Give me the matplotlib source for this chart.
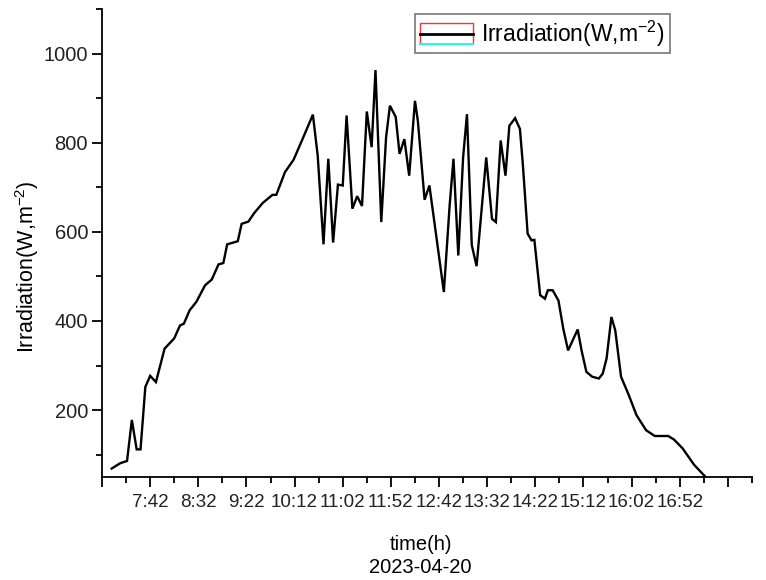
import matplotlib
matplotlib.use("Agg")
import matplotlib.pyplot as plt
import numpy as np
from matplotlib.legend_handler import HandlerBase
from matplotlib.patches import Rectangle
from matplotlib.lines import Line2D
from matplotlib.ticker import FixedLocator, MultipleLocator

plt.rcParams['font.family'] = ['Liberation Sans', 'DejaVu Sans']
plt.rcParams['mathtext.fontset'] = 'custom'
plt.rcParams['mathtext.rm'] = 'Liberation Sans'
plt.rcParams['mathtext.it'] = 'Liberation Sans'

# ---- data ----
times = ["07:02", "07:11", "07:18", "07:23", "07:28", "07:32", "07:37", "07:42", "07:48", "07:57",
         "08:07", "08:13", "08:17", "08:23", "08:30", "08:39", "08:46", "08:53", "08:58", "09:02",
         "09:13", "09:17", "09:24", "09:30", "09:39", "09:49", "09:53", "10:02", "10:11", "10:21",
         "10:31", "10:36", "10:42", "10:47", "10:52", "10:57", "11:02", "11:06", "11:12", "11:17",
         "11:22", "11:27", "11:32", "11:36", "11:42", "11:47", "11:51", "11:57", "12:01", "12:06",
         "12:11", "12:17", "12:20", "12:27", "12:32", "12:47", "12:53", "12:57", "13:02", "13:07",
         "13:11", "13:16", "13:21", "13:31", "13:37", "13:41", "13:46", "13:51", "13:55", "14:01",
         "14:06", "14:09", "14:14", "14:18", "14:21", "14:27", "14:32", "14:35", "14:40", "14:46",
         "14:51", "14:56", "15:06", "15:10", "15:15", "15:21", "15:28", "15:32", "15:36", "15:41",
         "15:45", "15:51", "15:59", "16:07", "16:17", "16:26", "16:40", "16:46", "16:55", "17:07",
         "17:18"]
irradiation = [69, 81, 86, 178, 112, 112, 252, 277, 263, 338,
               361, 390, 394, 424, 443, 480, 493, 527, 530, 572,
               579, 618, 623, 642, 665, 683, 683, 734, 762, 812,
               863, 771, 572, 764, 576, 706, 704, 861, 652, 680,
               658, 870, 790, 963, 622, 812, 883, 858, 775, 808,
               726, 894, 849, 672, 704, 465, 659, 764, 547, 767,
               864, 570, 523, 767, 629, 622, 805, 726, 838, 855,
               831, 752, 596, 581, 582, 458, 450, 469, 469, 446,
               383, 334, 381, 334, 286, 275, 271, 282, 316, 409,
               379, 275, 234, 189, 155, 142, 142, 134, 114, 77,
               52]
tick_times = ["06:52", "07:42", "08:32", "09:22", "10:12", "11:02", "11:52",
              "12:42", "13:32", "14:22", "15:12", "16:02", "16:52", "17:42"]
tick_labels = ["", "7:42", "8:32", "9:22", "10:12", "11:02", "11:52",
               "12:42", "13:32", "14:22", "15:12", "16:02", "16:52", ""]
x_range = ["06:52", "18:07"]
y_range = [50, 1100]
date_label = "2023-04-20"


def to_min(s):
    h, m = s.split(":")
    return int(h) * 60 + int(m)


x = np.array([to_min(t) for t in times])
y = np.array(irradiation)
xt = [to_min(t) for t in tick_times]

W, H = 766, 580
fig = plt.figure(figsize=(W / 100, H / 100), dpi=100)
ax = fig.add_axes([102 / W, 1 - 477 / H, (752 - 102) / W, (477 - 9) / H])

line, = ax.plot(x, y, color='black', lw=1.7, solid_joinstyle='miter')

ax.set_xlim(to_min(x_range[0]), to_min(x_range[1]))
ax.set_ylim(*y_range)

ax.xaxis.set_major_locator(FixedLocator(xt))
ax.set_xticklabels(tick_labels, family=['Liberation Sans'])
ax.xaxis.set_minor_locator(MultipleLocator(25, offset=xt[0] % 25))
ax.set_yticks([200, 400, 600, 800, 1000])
ax.yaxis.set_minor_locator(MultipleLocator(100))

for s in ['top', 'right']:
    ax.spines[s].set_visible(False)
for s in ['left', 'bottom']:
    ax.spines[s].set_linewidth(1.3)

ax.tick_params(axis='both', which='major', direction='out', length=7, width=1.3)
ax.tick_params(axis='both', which='minor', direction='out', length=4, width=1.3)
ax.tick_params(axis='x', which='major', labelsize=13.5, pad=5, labelcolor='#222222')
ax.tick_params(axis='y', which='major', labelsize=14.5, pad=3, labelcolor='#222222')

ax.set_xlabel("time(h)\n" + date_label, fontsize=14.5, linespacing=1.25)
ax.xaxis.set_label_coords(0.49, -0.125, transform=ax.transAxes)
ax.xaxis.label.set_va('top')
ax.set_ylabel(r"Irradiation(W,m$^{-2}$)", fontsize=15.5)
ax.yaxis.set_label_coords(-0.094, 0.45)


class OriginHandler(HandlerBase):
    def create_artists(self, legend, orig_handle, xdescent, ydescent,
                       width, height, fontsize, trans):
        x0, y0 = -xdescent, -ydescent
        rect = Rectangle((x0, y0), width, height, fill=False,
                         edgecolor='#ff3030', lw=1.0, transform=trans)
        ln = Line2D([x0, x0 + width], [y0 + height / 2, y0 + height / 2],
                    color='black', lw=2.0, transform=trans)
        cy = Line2D([x0, x0 + width], [y0, y0], color='#33f0f0', lw=1.5,
                    transform=trans)
        return [rect, ln, cy]


leg = ax.legend([line], [r"Irradiation(W,m$^{-2}$)"],
                handler_map={Line2D: OriginHandler()},
                loc='upper left', bbox_to_anchor=(415 / W, 1 - 14 / H),
                bbox_transform=fig.transFigure, borderaxespad=0,
                fontsize=16.5, frameon=True, fancybox=False,
                handlelength=2.35, handleheight=1.05, handletextpad=0.35,
                borderpad=0.2)
leg.get_frame().set_edgecolor('#555555')
leg.get_frame().set_linewidth(1.2)

fig.savefig("out.png", dpi=100)
